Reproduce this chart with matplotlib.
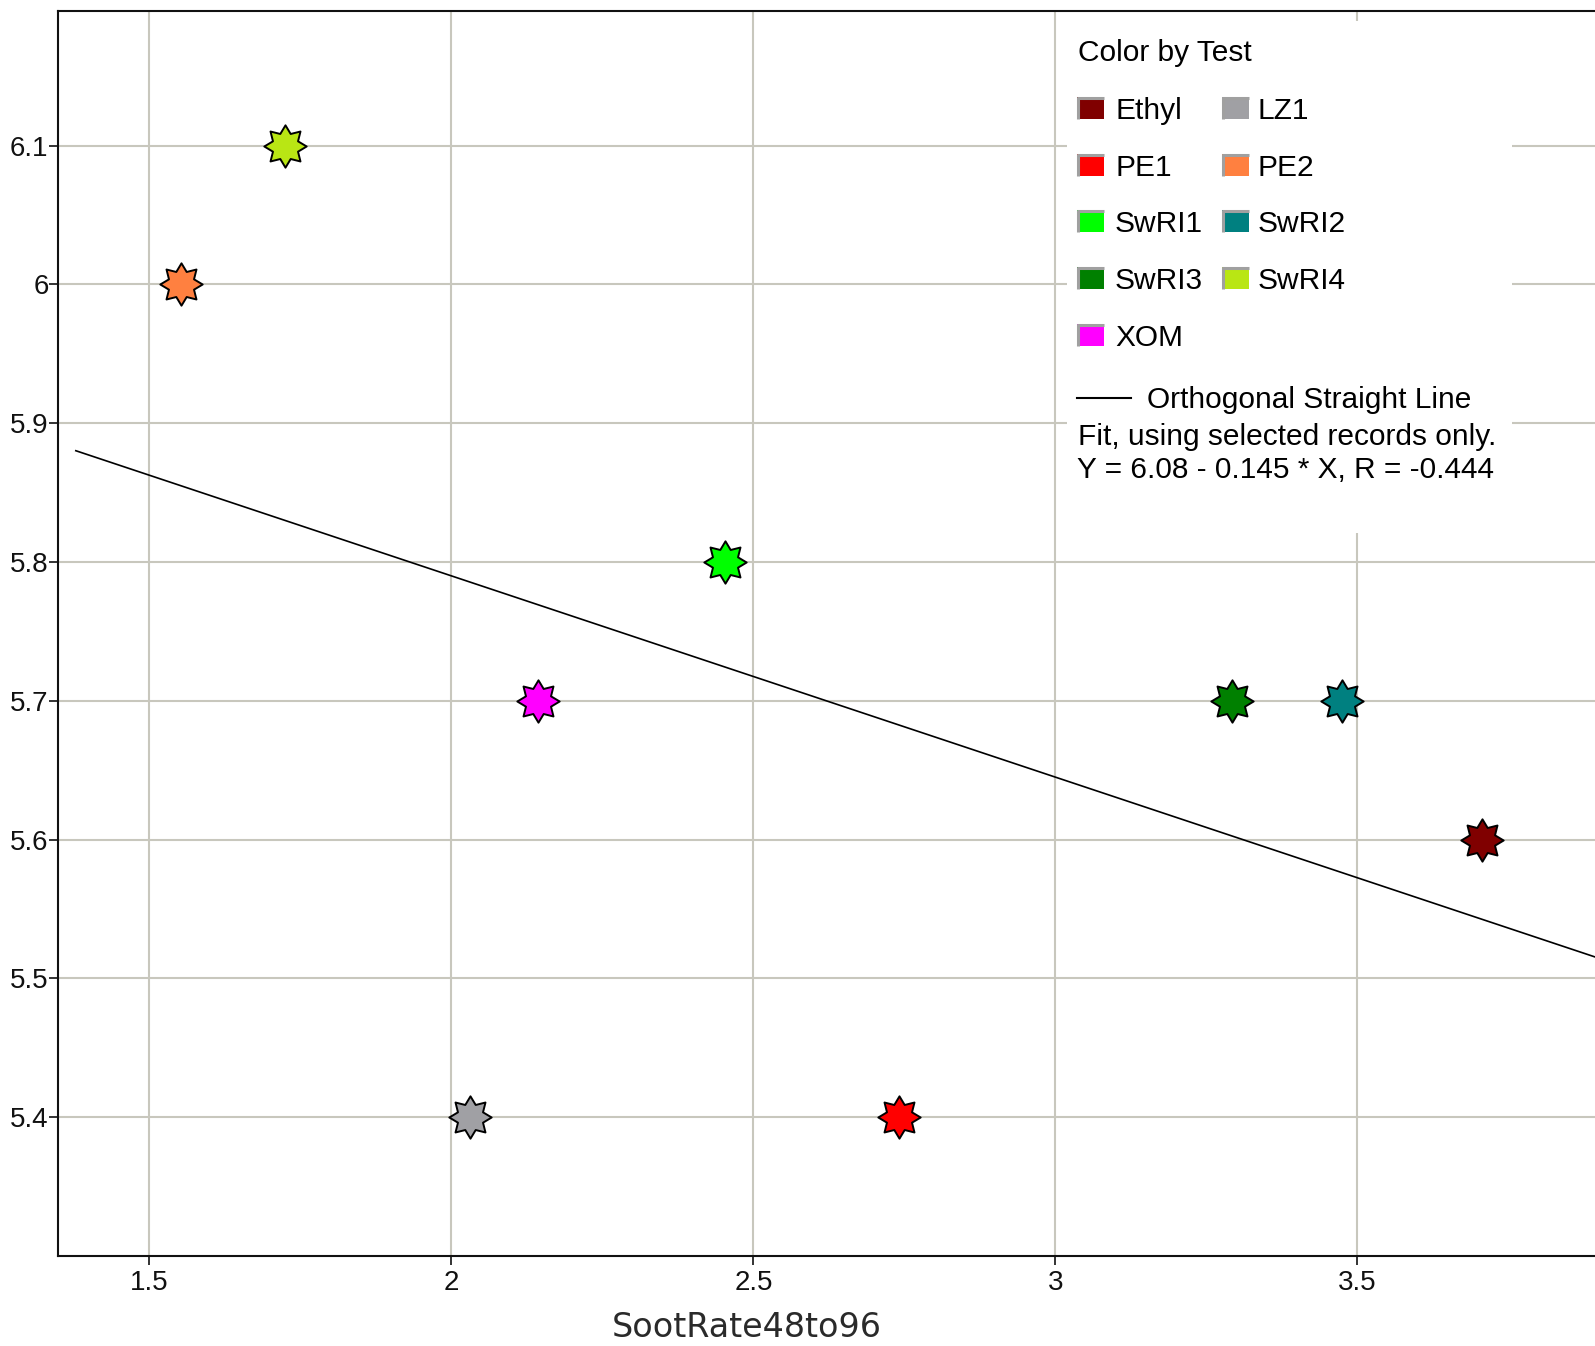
import numpy as np
import matplotlib
matplotlib.use("Agg")
import matplotlib.pyplot as plt
from matplotlib.path import Path
from matplotlib.patches import Rectangle
from matplotlib.lines import Line2D

# ---- data -------------------------------------------------------------
tests = ["Ethyl", "LZ1", "PE1", "PE2", "SwRI1", "SwRI2", "SwRI3", "SwRI4", "XOM"]
test_colors = ["#800000", "#a0a0a4", "#ff0000", "#ff8040", "#00ff00",
               "#008080", "#008000", "#b9e614", "#ff00ff"]
soot_rate = [3.706, 2.030, 2.741, 1.552, 2.453, 3.474, 3.292, 1.724, 2.143]
response = [5.6, 5.4, 5.4, 6.0, 5.8, 5.7, 5.7, 6.1, 5.7]

x_ticks = [1.5, 2.0, 2.5, 3.0, 3.5]
x_tick_labels = ["1.5", "2", "2.5", "3", "3.5"]
y_ticks = [5.4, 5.5, 5.6, 5.7, 5.8, 5.9, 6.0, 6.1]
y_tick_labels = ["5.4", "5.5", "5.6", "5.7", "5.8", "5.9", "6", "6.1"]

fit_intercept = 6.08
fit_slope = -0.145
fit_r = -0.444
fit_x_start = 1.378

x_label = "SootRate48to96"
legend_title = "Color by Test"

# ---- figure -----------------------------------------------------------
W, H = 1595, 1346
fig = plt.figure(figsize=(W / 100, H / 100), dpi=100)


def fx(px):
    return px / W


def fy(py):
    return 1 - py / H


ui_font = ["Liberation Sans", "DejaVu Sans"]

left_px, right_px, top_px, bottom_px = 58.3, 1625, 11, 1256
ax = fig.add_axes([fx(left_px), fy(bottom_px),
                   (right_px - left_px) / W, (bottom_px - top_px) / H])
xmin, xmax = 1.349, 3.943
ax.set_xlim(xmin, xmax)
ax.set_ylim(5.3, 6.197)

# eight-pointed star marker
ang = np.pi / 2 + np.arange(16) * np.pi / 8
rad = np.tile([1.0, 0.64], 8)
verts = np.column_stack([rad * np.cos(ang), rad * np.sin(ang)])
verts = np.vstack([verts, verts[:1]])
codes = [Path.MOVETO] + [Path.LINETO] * 15 + [Path.CLOSEPOLY]
star = Path(verts, codes)

for xv, yv, c in zip(soot_rate, response, test_colors):
    ax.plot([xv], [yv], linestyle="none", marker=star, markersize=30.5,
            markerfacecolor=c, markeredgecolor="black", markeredgewidth=1.4,
            zorder=4)

fit_x = np.array([fit_x_start, xmax + 0.1])
fit_y = fit_intercept + fit_slope * fit_x
ax.plot(fit_x, fit_y, color="black", linewidth=1.2, zorder=3)

ax.set_xticks(x_ticks)
ax.set_xticklabels(x_tick_labels)
ax.set_yticks(y_ticks)
ax.set_yticklabels(y_tick_labels)
ax.grid(True, color="#c8c7bd", linewidth=1.5)
ax.set_axisbelow(True)
for side in ("left", "bottom", "top"):
    ax.spines[side].set_linewidth(1.5)
    ax.spines[side].set_color("#111111")
ax.spines["right"].set_visible(False)
ax.tick_params(direction="out", length=6.5, width=1.2, labelsize=20,
               colors="#111111")
ax.tick_params(axis="y", pad=0.5)
ax.tick_params(axis="x", pad=3.5)
for lab in ax.get_xticklabels() + ax.get_yticklabels():
    lab.set_fontfamily(ui_font)

ax.set_xlabel(x_label, fontsize=24, fontfamily="DejaVu Sans", color="#2a2a2a")
ax.xaxis.set_label_coords(fx(747), fy(1337), transform=fig.transFigure)
ax.xaxis.label.set_va("baseline")

# ---- legend panel -----------------------------------------------------
fig.add_artist(Rectangle((fx(1067), fy(533)), fx(1512) - fx(1067),
                         fy(21) - fy(533), transform=fig.transFigure,
                         facecolor="white", edgecolor="none", zorder=2))

leg_fs = 21.5
fig.text(fx(1078), fy(61), legend_title, fontsize=leg_fs, fontfamily=ui_font,
         va="baseline", ha="left", zorder=5)

col_swatch = [1077, 1222]
col_text = [1115, 1258]
row_base0, row_dy = 119, 56.7
sw_w, sw_h = 27, 22
for i, (name, c) in enumerate(zip(tests, test_colors)):
    r, k = divmod(i, 2)
    yb = row_base0 + r * row_dy
    x0 = col_swatch[k]
    fig.add_artist(Rectangle((fx(x0), fy(yb)), sw_w / W, sw_h / H,
                             transform=fig.transFigure, facecolor=c,
                             edgecolor="none", zorder=4))
    fig.add_artist(Line2D([fx(x0), fx(x0 + sw_w)], [fy(yb - sw_h + 1)] * 2,
                          transform=fig.transFigure, color="#a0a0a0",
                          linewidth=2.2, solid_capstyle="butt", zorder=5))
    fig.add_artist(Line2D([fx(x0 + 1)] * 2, [fy(yb - sw_h), fy(yb)],
                          transform=fig.transFigure, color="#a0a0a0",
                          linewidth=2.2, solid_capstyle="butt", zorder=5))
    fig.text(fx(col_text[k]), fy(yb), name, fontsize=leg_fs, fontfamily=ui_font,
             va="baseline", ha="left", zorder=5)

fig.add_artist(Line2D([fx(1077), fx(1131)], [fy(398)] * 2,
                      transform=fig.transFigure, color="black", linewidth=1.5,
                      zorder=5))
fig.text(fx(1147), fy(408), "Orthogonal Straight Line", fontsize=leg_fs,
         fontfamily=ui_font, va="baseline", ha="left", zorder=5)
fig.text(fx(1078), fy(445), "Fit, using selected records only.",
         fontsize=leg_fs, fontfamily=ui_font, va="baseline", ha="left", zorder=5)
fig.text(fx(1077), fy(478),
         f"Y = {fit_intercept:.2f} - {abs(fit_slope):.3f} * X, R = {fit_r:.3f}",
         fontsize=leg_fs, fontfamily=ui_font, va="baseline", ha="left", zorder=5)

fig.savefig("out.png", dpi=100)
